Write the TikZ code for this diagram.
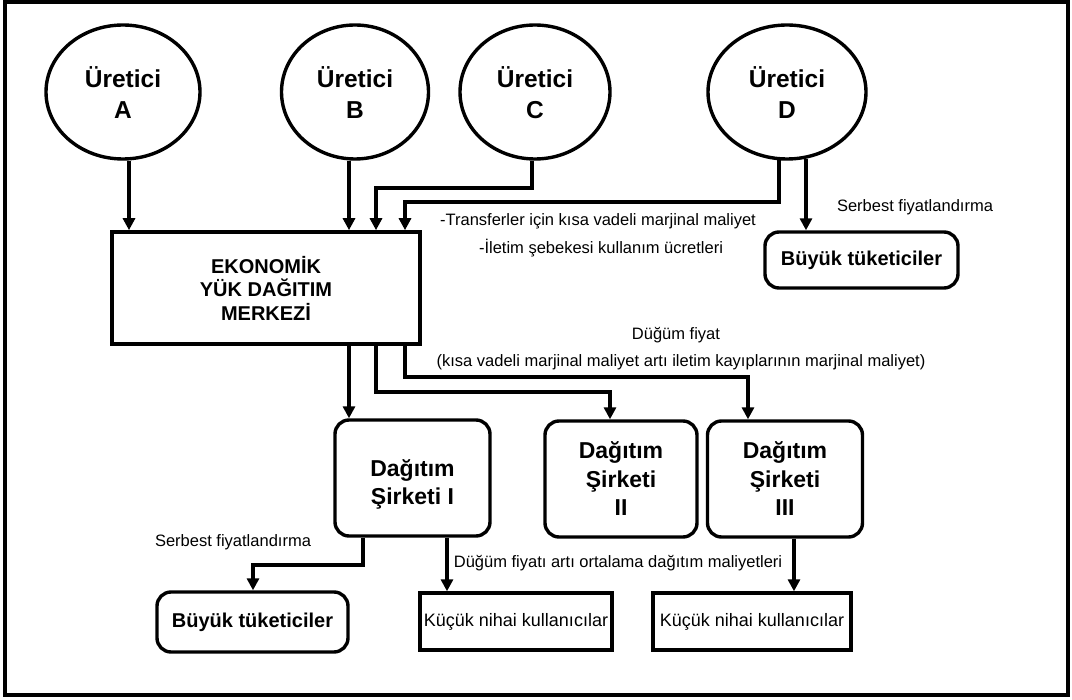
\documentclass[tikz,border=0pt]{standalone}
\usepackage{fontspec}
\setmainfont{Liberation Sans}
\usetikzlibrary{shapes.geometric,arrows.meta}
\begin{document}
\begin{tikzpicture}[x=1pt,y=-1pt,
  line width=3.4pt,
  arr/.style={line width=3.4pt,-{Triangle[length=12pt,width=12pt]}},
  circ/.style={ellipse,draw,line width=3.4pt,minimum width=152pt,minimum height=134pt,
    align=center,inner sep=0pt,font=\bfseries\fontsize{24.5}{31}\selectfont},
  mainbox/.style={rectangle,draw,line width=3.6pt,minimum width=308pt,minimum height=112pt,
    align=center,font=\bfseries\fontsize{20}{23.5}\selectfont},
  rbox/.style={rectangle,rounded corners=14pt,draw,line width=3.4pt,align=center},
  dist/.style={rbox,font=\bfseries\fontsize{23}{28.5}\selectfont},
  cons/.style={rbox,font=\bfseries\fontsize{20}{24}\selectfont},
  sbox/.style={rectangle,draw,line width=3.4pt,minimum height=57pt,inner sep=1pt,
    font=\fontsize{18}{22}\selectfont},
  lbl/.style={font=\fontsize{16.5}{20}\selectfont,inner sep=0pt}
]
\useasboundingbox (0,0) rectangle (1072,700);
\draw[line width=3.4pt] (5,2) rectangle (1068,695);

% producers
\node[circ,minimum width=154pt] (A) at (123,92) {\rule{0pt}{22pt}Üretici\\A};
\node[circ,minimum width=147pt] (B) at (355,92) {\rule{0pt}{22pt}Üretici\\B};
\node[circ,minimum width=150pt] (C) at (535,92) {\rule{0pt}{22pt}Üretici\\C};
\node[circ,minimum width=158pt] (D) at (787,92) {\rule{0pt}{22pt}Üretici\\D};

% dispatch centre
\node[mainbox] (E) at (266,288) {EKONOMİK\\YÜK DAĞITIM\\MERKEZİ};

% large consumers right
\node[cons,minimum width=193pt,minimum height=56pt] (BT1) at (861.5,260) {Büyük tüketiciler};

% distribution companies
\node[dist,minimum width=155pt,minimum height=116pt] (DS1) at (412.5,478) {\rule{0pt}{30pt}Dağıtım\\Şirketi I};
\node[dist,minimum width=152pt,minimum height=116pt] (DS2) at (621,479) {Dağıtım\\Şirketi\\II};
\node[dist,minimum width=155pt,minimum height=116pt] (DS3) at (785,479) {Dağıtım\\Şirketi\\III};

% bottom row
\node[cons,minimum width=191pt,minimum height=60pt] (BT2) at (252.5,622) {Büyük tüketiciler};
\node[sbox,minimum width=192pt] (K1) at (516,621.5) {Küçük nihai kullanıcılar};
\node[sbox,minimum width=198pt] (K2) at (752,621.5) {Küçük nihai kullanıcılar};

% labels
\node[lbl] (L1) at (598,221) {-Transferler için kısa vadeli marjinal maliyet};
\node[lbl] (L2) at (601,248) {-İletim şebekesi kullanım ücretleri};
\node[lbl] (L3) at (915,207) {Serbest fiyatlandırma};
\node[lbl] (L4) at (676,335) {Düğüm fiyat};
\node[lbl] (L5) at (681,362) {(kısa vadeli marjinal maliyet artı iletim kayıplarının marjinal maliyet)};
\node[lbl] (L6) at (233,542) {Serbest fiyatlandırma};
\node[lbl] (L7) at (618,563) {Düğüm fiyatı artı ortalama dağıtım maliyetleri};

% coordinates for connector routes
\coordinate (ax) at (129,0);
\coordinate (cx) at (532,0);
\coordinate (cC) at (376,188);
\coordinate (dx) at (779,0);
\coordinate (dD) at (405,202);
\coordinate (dr) at (806,0);
\coordinate (e1) at (349,0);
\coordinate (e2) at (376,392);
\coordinate (e3) at (405,377);
\coordinate (d2) at (610,0);
\coordinate (d3) at (748,0);
\coordinate (f1) at (363,565);
\coordinate (f1b) at (253,0);
\coordinate (f2) at (447,0);
\coordinate (g3) at (794,0);

% connectors into the centre
\draw[arr] (A.south -| ax) -- (ax |- E.north);
\draw[arr] (B.south -| e1) -- (e1 |- E.north);
\draw[arr] (C.south -| cx) |- (cC) -- (cC |- E.north);
\draw[arr] ([yshift=1pt]D.south -| dx) |- (dD) -- (dD |- E.north);
\draw[arr] ([yshift=2pt]D.south -| dr) -- (dr |- BT1.north);

% connectors out of the centre
\draw[arr] (E.south -| e1) -- (e1 |- DS1.north);
\draw[arr] (E.south -| e2) -- (e2) -| (d2 |- DS2.north);
\draw[arr] (E.south -| e3) -- (e3) -| (d3 |- DS3.north);

% lower connectors
\draw[arr] (DS1.south -| f1) -- (f1) -| (f1b |- BT2.north);
\draw[arr] (DS1.south -| f2) -- (f2 |- K1.north);
\draw[arr] (DS3.south -| g3) -- (g3 |- K2.north);
\end{tikzpicture}
\end{document}
